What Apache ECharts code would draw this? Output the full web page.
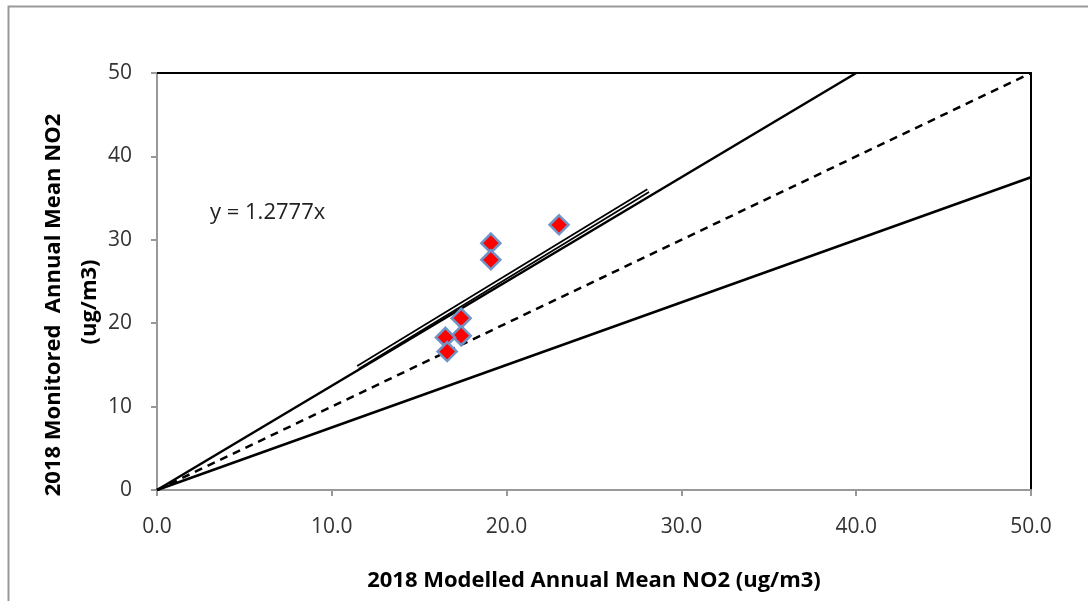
<!DOCTYPE html>
<html>
<head>
<meta charset="utf-8">
<script src="https://cdn.jsdelivr.net/npm/echarts@6/dist/echarts.min.js"></script>
<style>
  html, body { margin: 0; padding: 0; background: #fff; }
  #chart { width: 1088px; height: 601px; }
</style>
</head>
<body>
<div id="chart"></div>
<script>
// modelled (x) vs monitored (y) NO2, ug/m3
var modelled = [23.0, 19.1, 19.1, 17.4, 17.4, 16.5, 16.6];
var monitored = [31.8, 29.6, 27.6, 20.6, 18.5, 18.3, 16.6];

// reference lines: +25%, 1:1, -25%
var upperLine = [[0, 0], [40, 50]];
var equalLine = [[0, 0], [50, 50]];
var lowerLine = [[0, 0], [50, 37.5]];

// linear trend through origin
var trendSlope = 1.2777;
var trendRange = [11.5, 28.1];
var trendLabel = 'y = 1.2777x';

var points = [];
for (var i = 0; i < modelled.length; i++) {
	points.push([modelled[i], monitored[i]]);
}
var trendLine = [
	[trendRange[0], trendRange[0] * trendSlope],
	[trendRange[1], trendRange[1] * trendSlope]
];

var font = '"Open Sans", "Noto Sans", sans-serif';
var myChart = echarts.init(document.getElementById('chart'));

var option = {
	backgroundColor: '#fff',
	animation: false,
	grid: { left: 157, top: 73, right: 57, bottom: 111, outerBoundsMode: 'none', containLabel: false },
	xAxis: [{
		type: 'value', min: 0, max: 50, interval: 10,
		name: '2018 Modelled Annual Mean NO2 (ug/m3)',
		nameLocation: 'middle', nameGap: 80,
		nameTextStyle: { fontFamily: font, fontSize: 22, fontWeight: 'bold', color: '#000' },
		axisLine: { lineStyle: { color: '#999', width: 2 } },
		axisTick: { show: true, length: 6, lineStyle: { color: '#999', width: 2 } },
		axisLabel: { fontFamily: font, fontSize: 21, color: '#333', margin: 27,
			formatter: function (v) { return v.toFixed(1); } },
		splitLine: { show: false }
	}, {
		type: 'value', min: 0, max: 50, position: 'top',
		axisLine: { show: true, onZero: false, lineStyle: { color: '#000', width: 2 } },
		axisTick: { show: false }, axisLabel: { show: false }, splitLine: { show: false }
	}],
	yAxis: [{
		type: 'value', min: 0, max: 50, interval: 10,
		axisLine: { lineStyle: { color: '#999', width: 2 } },
		axisTick: { show: true, length: 6, lineStyle: { color: '#999', width: 2 } },
		axisLabel: { fontFamily: font, fontSize: 21, color: '#333', margin: 25 },
		splitLine: { show: false }
	}, {
		type: 'value', min: 0, max: 50, position: 'right',
		axisLine: { show: true, onZero: false, lineStyle: { color: '#000', width: 2 } },
		axisTick: { show: false }, axisLabel: { show: false }, splitLine: { show: false }
	}],
	graphic: [{
		type: 'rect', left: 6, top: 4,
		shape: { width: 1100, height: 620 },
		style: { fill: 'none', stroke: '#999', lineWidth: 2 },
		silent: true, z: -1
	}, {
		// y axis title, two lines, rotated
		type: 'text', x: 54, y: 305, rotation: Math.PI / 2,
		style: { text: '2018 Monitored  Annual Mean NO2', font: 'bold 22px ' + font, fill: '#000',
			align: 'center', verticalAlign: 'middle' }
	}, {
		type: 'text', x: 90, y: 302, rotation: Math.PI / 2,
		style: { text: '(ug/m3)', font: 'bold 22px ' + font, fill: '#000',
			align: 'center', verticalAlign: 'middle' }
	}, {
		type: 'text', x: 210, y: 213,
		style: { text: trendLabel, font: '22px ' + font, fill: '#222', verticalAlign: 'middle' }
	}],
	series: [
		{ type: 'line', data: upperLine, symbol: 'none', lineStyle: { color: '#000', width: 2.5 } },
		{ type: 'line', data: equalLine, symbol: 'none', lineStyle: { color: '#000', width: 2.5, type: [8, 6] } },
		{ type: 'line', data: lowerLine, symbol: 'none', lineStyle: { color: '#000', width: 2.5 } },
		{ type: 'line', data: trendLine, symbol: 'none', lineStyle: { color: '#000', width: 5 }, z: 3 },
		{ type: 'line', data: trendLine, symbol: 'none', lineStyle: { color: '#fff', width: 1.5 }, z: 4 },
		{
			type: 'scatter', data: points, symbol: 'diamond', symbolSize: 19, z: 5,
			itemStyle: { color: '#ff0000', borderColor: '#6f95c8', borderWidth: 2.5, opacity: 1 }
		}
	]
};
myChart.setOption(option);
</script>
</body>
</html>
